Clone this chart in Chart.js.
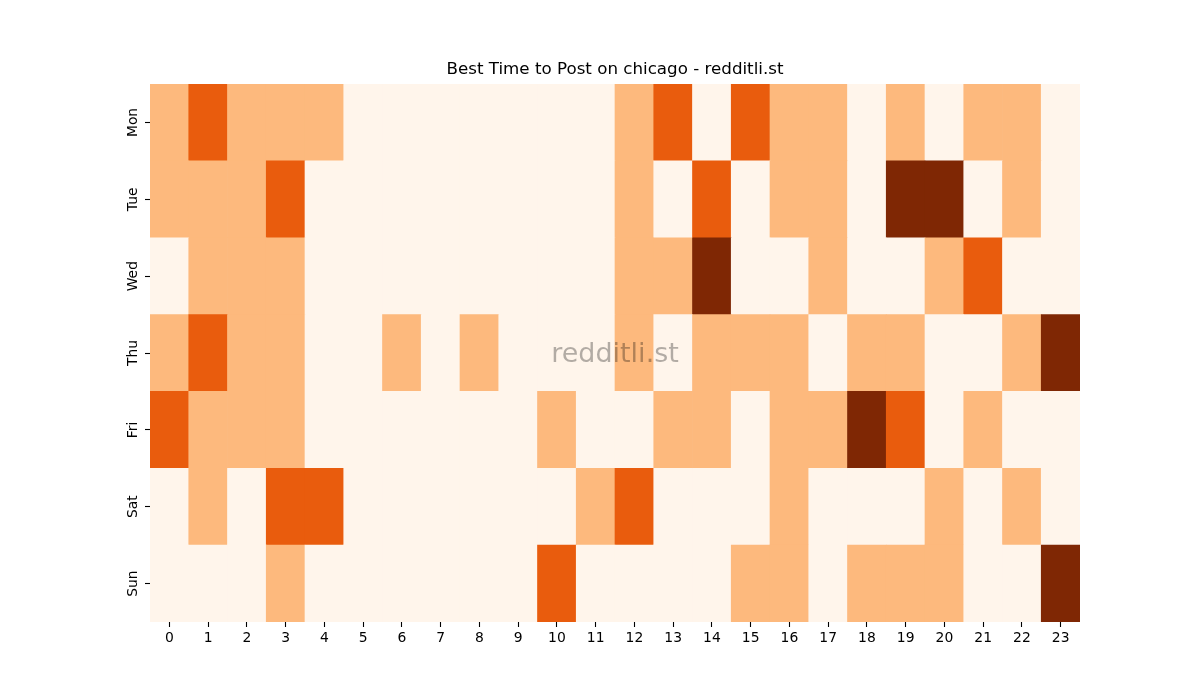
<!DOCTYPE html>
<html>
<head>
<meta charset="utf-8">
<script src="https://cdn.jsdelivr.net/npm/chart.js@4/dist/chart.umd.min.js"></script>
<style>
    body { margin: 0; background: #fff; }
</style>
</head>
<body>
<canvas id="heatmap" width="1200" height="700"></canvas>
<script>
// posting activity level per hour (0 = low ... 3 = best)
const hours = ['0', '1', '2', '3', '4', '5', '6', '7', '8', '9', '10', '11',
    '12', '13', '14', '15', '16', '17', '18', '19', '20', '21', '22', '23'];
const days = ['Mon', 'Tue', 'Wed', 'Thu', 'Fri', 'Sat', 'Sun'];
const mon = [1, 2, 1, 1, 1, 0, 0, 0, 0, 0, 0, 0, 1, 2, 0, 2, 1, 1, 0, 1, 0, 1, 1, 0];
const tue = [1, 1, 1, 2, 0, 0, 0, 0, 0, 0, 0, 0, 1, 0, 2, 0, 1, 1, 0, 3, 3, 0, 1, 0];
const wed = [0, 1, 1, 1, 0, 0, 0, 0, 0, 0, 0, 0, 1, 1, 3, 0, 0, 1, 0, 0, 1, 2, 0, 0];
const thu = [1, 2, 1, 1, 0, 0, 1, 0, 1, 0, 0, 0, 1, 0, 1, 1, 1, 0, 1, 1, 0, 0, 1, 3];
const fri = [2, 1, 1, 1, 0, 0, 0, 0, 0, 0, 1, 0, 0, 1, 1, 0, 1, 1, 3, 2, 0, 1, 0, 0];
const sat = [0, 1, 0, 2, 2, 0, 0, 0, 0, 0, 0, 1, 2, 0, 0, 0, 1, 0, 0, 0, 1, 0, 1, 0];
const sun = [0, 0, 0, 1, 0, 0, 0, 0, 0, 0, 2, 0, 0, 0, 0, 1, 1, 0, 1, 1, 1, 0, 0, 3];
const levelColors = ['#fff5eb', '#fdb97d', '#e95c0d', '#7f2704'];

const rows = [mon, tue, wed, thu, fri, sat, sun];
const font = "'DejaVu Sans', sans-serif";

// stack from the bottom: Sun first, Mon on top
const datasets = [];
for (let i = rows.length - 1; i >= 0; i--) {
    datasets.push({
        label: days[i],
        data: rows[i].map(function () { return 1; }),
        backgroundColor: rows[i].map(function (v) { return levelColors[v]; }),
        borderWidth: 0,
        barPercentage: 1,
        categoryPercentage: 1
    });
}

const watermark = {
    id: 'watermark',
    afterDatasetsDraw: function (chart) {
        const a = chart.chartArea;
        const ctx = chart.ctx;
        ctx.save();
        ctx.font = "27px " + font;
        ctx.fillStyle = 'rgba(0, 0, 0, 0.3)';
        ctx.textAlign = 'center';
        ctx.textBaseline = 'middle';
        ctx.fillText('redditli.st', (a.left + a.right) / 2, (a.top + a.bottom) / 2 + 2);
        ctx.restore();
    }
};

new Chart(document.getElementById('heatmap'), {
    type: 'bar',
    data: { labels: hours, datasets: datasets },
    plugins: [watermark],
    options: {
        responsive: false,
        animation: false,
        layout: { padding: { left: 0, right: 120, top: 0, bottom: 0 } },
        plugins: {
            legend: { display: false },
            tooltip: { enabled: false },
            title: {
                display: true,
                text: 'Best Time to Post on chicago - redditli.st',
                fullSize: false,
                color: '#000',
                font: { family: font, size: 16.7, weight: 'normal' },
                padding: { top: 60, bottom: 4 }
            }
        },
        scales: {
            x: {
                stacked: true,
                grid: { display: true, drawOnChartArea: false, offset: false, tickLength: 5, tickColor: '#000', tickWidth: 1.1 },
                border: { display: false },
                ticks: { color: '#000', padding: 3, font: { family: font, size: 13.9 }, maxRotation: 0, autoSkip: false },
                afterFit: function (scale) { scale.height = 78; }
            },
            y: {
                stacked: true,
                min: 0,
                max: 7,
                grid: { display: true, drawOnChartArea: false, tickLength: 5, tickColor: '#000', tickWidth: 1.1 },
                border: { display: false },
                afterBuildTicks: function (scale) {
                    scale.ticks = days.map(function (d, i) { return { value: 6.5 - i }; });
                },
                ticks: {
                    color: '#000',
                    padding: -4,
                    crossAlign: 'center',
                    minRotation: 90,
                    maxRotation: 90,
                    font: { family: font, size: 13.9 },
                    callback: function (v) { return days[Math.round(6.5 - v)]; }
                },
                afterFit: function (scale) { scale.width = 150; }
            }
        }
    }
});
</script>
</body>
</html>
